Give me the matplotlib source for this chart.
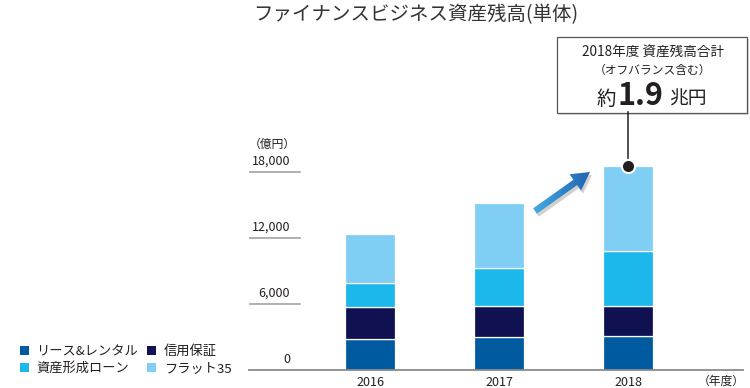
import numpy as np
import matplotlib
matplotlib.use("Agg")
import matplotlib.pyplot as plt
from matplotlib.patches import Patch, Rectangle, FancyArrow
from matplotlib.colors import LinearSegmentedColormap
from matplotlib.transforms import blended_transform_factory

plt.rcParams["font.family"] = ["Noto Sans CJK JP", "DejaVu Sans"]

# data (億円)
years = ["2016", "2017", "2018"]
lease = [2800, 3000, 3050]        # リース&レンタル
guarantee = [2900, 2850, 2800]    # 信用保証
asset = [2200, 3400, 5000]        # 資産形成ローン
flat35 = [4450, 5900, 7650]       # フラット35
series_labels = ["リース&レンタル", "信用保証", "資産形成ローン", "フラット35"]
colors = ["#005a9f", "#0f1150", "#1cb8ec", "#80cef3"]
yticks = [0, 6000, 12000, 18000]
ytick_labels = ["0", "6,000", "12,000", "18,000"]

TXT = "#231f20"

fig = plt.figure(figsize=(7.5, 3.88), dpi=100)

# overlay in pixel coords for decorations
ov = fig.add_axes([0, 0, 1, 1])
ov.set_xlim(0, 750)
ov.set_ylim(388, 0)
ov.axis("off")

# chart axes: y=0 at px 370, 18000 at px 172
ax = fig.add_axes([249 / 750, (388 - 370) / 388, 496 / 750, 220 / 388])
ax.set_xlim(-121 / 129, 375 / 129)
ax.set_ylim(0, 20000)
ax.axis("off")

x = np.arange(len(years))
stacks = [lease, guarantee, asset, flat35]
bottom = np.zeros(len(years))
for vals, col, lab in zip(stacks, colors, series_labels):
    ax.bar(x, vals, bottom=bottom, width=0.39, color=col, edgecolor="white",
           linewidth=0.9, label=lab, zorder=2)
    bottom += np.array(vals)
totals = bottom

# baseline and short gridlines
ax.axhline(0, color="#8a8a8a", lw=1.3, xmin=0, xmax=0.995, zorder=3, clip_on=False)
tr = blended_transform_factory(ax.transAxes, ax.transData)
for v, lab in zip(yticks, ytick_labels):
    if v > 0:
        ax.plot([0, 51 / 496], [v, v], color="#9a9a9a", lw=1.1, transform=tr)
    ax.annotate(lab, (41 / 496, v), xycoords=tr, xytext=(0, 3),
                textcoords="offset points", ha="right", va="bottom",
                fontsize=9, color=TXT)
ax.text(0, 19900, "（億円）", transform=tr, ha="left", va="bottom",
        fontsize=8.5, color=TXT)

for xi, yr in zip(x, years):
    ax.annotate(yr, (xi, 0), xytext=(0, -4), textcoords="offset points",
                ha="center", va="top", fontsize=9, color=TXT)
ov.text(745, 381, "（年度）", ha="right", va="center", fontsize=8.5, color=TXT)

# title
ov.text(416, 15, "ファイナンスビジネス資産残高(単体)", ha="center", va="center",
        fontsize=14, color="#333333")

# callout box
ov.add_patch(Rectangle((558.5, 38.5), 190, 76, facecolor="#c8c8c8", edgecolor="none",
                       alpha=0.6, zorder=1))
ov.add_patch(Rectangle((556.5, 36.5), 190, 76, facecolor="white", edgecolor="#555555",
                       lw=0.9, zorder=2))
ov.text(653, 53, "2018年度 資産残高合計", ha="center", va="center", fontsize=9.8,
        color=TXT, zorder=3)
ov.text(653, 70, "（オフバランス含む）", ha="center", va="center", fontsize=8.5,
        color=TXT, zorder=3)
ov.text(616, 105, "約", ha="right", va="baseline", fontsize=14, color=TXT, zorder=3)
ov.text(617, 105, "1.9", ha="left", va="baseline", fontsize=22, fontweight="bold",
        color=TXT, zorder=3)
ov.text(669, 105, "兆円", ha="left", va="baseline", fontsize=13.5, color=TXT, zorder=3)

# leader line and dot on 2018 total
ax.plot([x[2], x[2]], [totals[2], (370 - 112.5) / 11.0 * 1000], color="#231f20",
        lw=1.1, clip_on=False, zorder=4)
ax.plot(x[2], totals[2], marker="o", ms=9.5, color="#231f20", mec="white", mew=1.5,
        clip_on=False, zorder=5)

# gradient arrow with shadow
shadow = FancyArrow(537, 214, 55, -39, width=6.5, head_width=20, head_length=18,
                    length_includes_head=True, color="#7a7a7a", alpha=0.35, lw=0)
ov.add_patch(shadow)
arrow = FancyArrow(535, 211, 55, -39, width=6.5, head_width=20, head_length=18,
                   length_includes_head=True, facecolor="none", edgecolor="none")
ov.add_patch(arrow)
cmap = LinearSegmentedColormap.from_list("arr", ["#47aee2", "#1e5faf"])
gx = np.linspace(0, 1, 64)
grad = np.tile(gx, (64, 1))
im = ov.imshow(grad, cmap=cmap, extent=(530, 595, 216, 168), aspect="auto", zorder=3)
im.set_clip_path(arrow)
ov.set_xlim(0, 750)
ov.set_ylim(388, 0)

# legend (row-wise order: column fill needs reordering)
handles = [Patch(facecolor=c, edgecolor="none") for c in colors]
order = [0, 2, 1, 3]
fig.legend([handles[i] for i in order], [series_labels[i] for i in order], ncol=2,
           loc="lower left", bbox_to_anchor=(20 / 750, 13 / 388), frameon=False,
           fontsize=9.5, handlelength=0.65, handleheight=0.65, handletextpad=0.6,
           columnspacing=0.7, labelspacing=0.3, borderpad=0, borderaxespad=0,
           labelcolor=TXT)

fig.savefig("out.png", dpi=100)
